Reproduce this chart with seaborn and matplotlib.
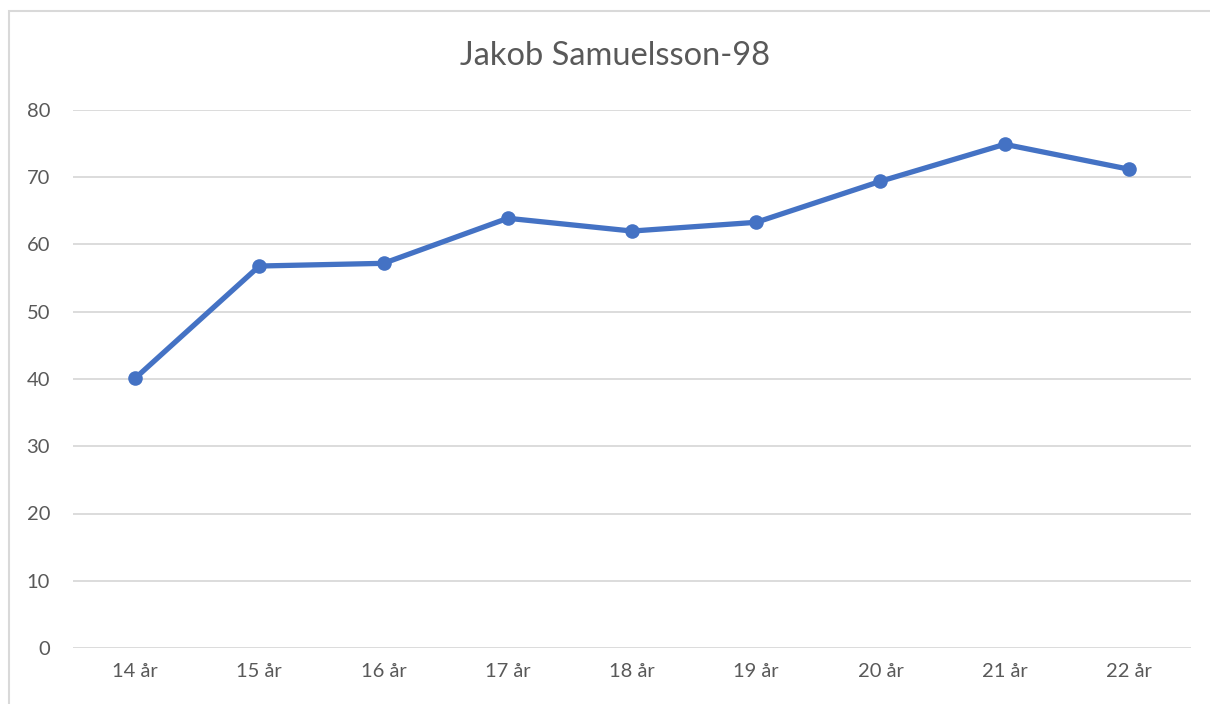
import numpy as np
import pandas as pd
import seaborn as sns
import matplotlib.pyplot as plt
from matplotlib.patches import Rectangle

sns.set_style('white')
plt.rcParams['font.family'] = ['Lato', 'DejaVu Sans']

# data
ages = ['14 år', '15 år', '16 år', '17 år', '18 år', '19 år', '20 år', '21 år', '22 år']
values = [40.1, 56.8, 57.2, 63.9, 62.0, 63.3, 69.4, 74.9, 71.2]
yticks = [0, 10, 20, 30, 40, 50, 60, 70, 80]

df = pd.DataFrame({'age': ages, 'value': values})

fig = plt.figure(figsize=(12.1, 7.04), dpi=100)
ax = fig.add_axes([73 / 1210, 1 - 648 / 704, (1191 - 73) / 1210, 538 / 704])

sns.lineplot(data=df, x='age', y='value', ax=ax, sort=False, color='#4472C4',
             linewidth=3.8, marker='o', markersize=10.5, markeredgewidth=0)

ax.set_xlim(-0.5, len(ages) - 0.5)
ax.set_ylim(0, 80)
ax.set_yticks(yticks)
ax.grid(axis='y', color='#d9d9d9', linewidth=1.3)
ax.set_axisbelow(True)
for s in ax.spines.values():
    s.set_visible(False)
ax.tick_params(axis='both', length=0, labelsize=14.5, colors='#595959')
ax.tick_params(axis='y', pad=16.5)
ax.tick_params(axis='x', pad=11)
ax.set_xlabel('')
ax.set_ylabel('')

fig.text(615 / 1210, 1 - 56 / 704, 'Jakob Samuelsson-98', ha='center', va='center',
         fontsize=23.5, color='#595959')

# chart frame
fig.patches.append(Rectangle((9 / 1210, -0.05), 1.2, 1 - 11 / 704 + 0.05,
                             transform=fig.transFigure, fill=False,
                             edgecolor='#d9d9d9', linewidth=1.5))

plt.savefig('out.png', dpi=100)
